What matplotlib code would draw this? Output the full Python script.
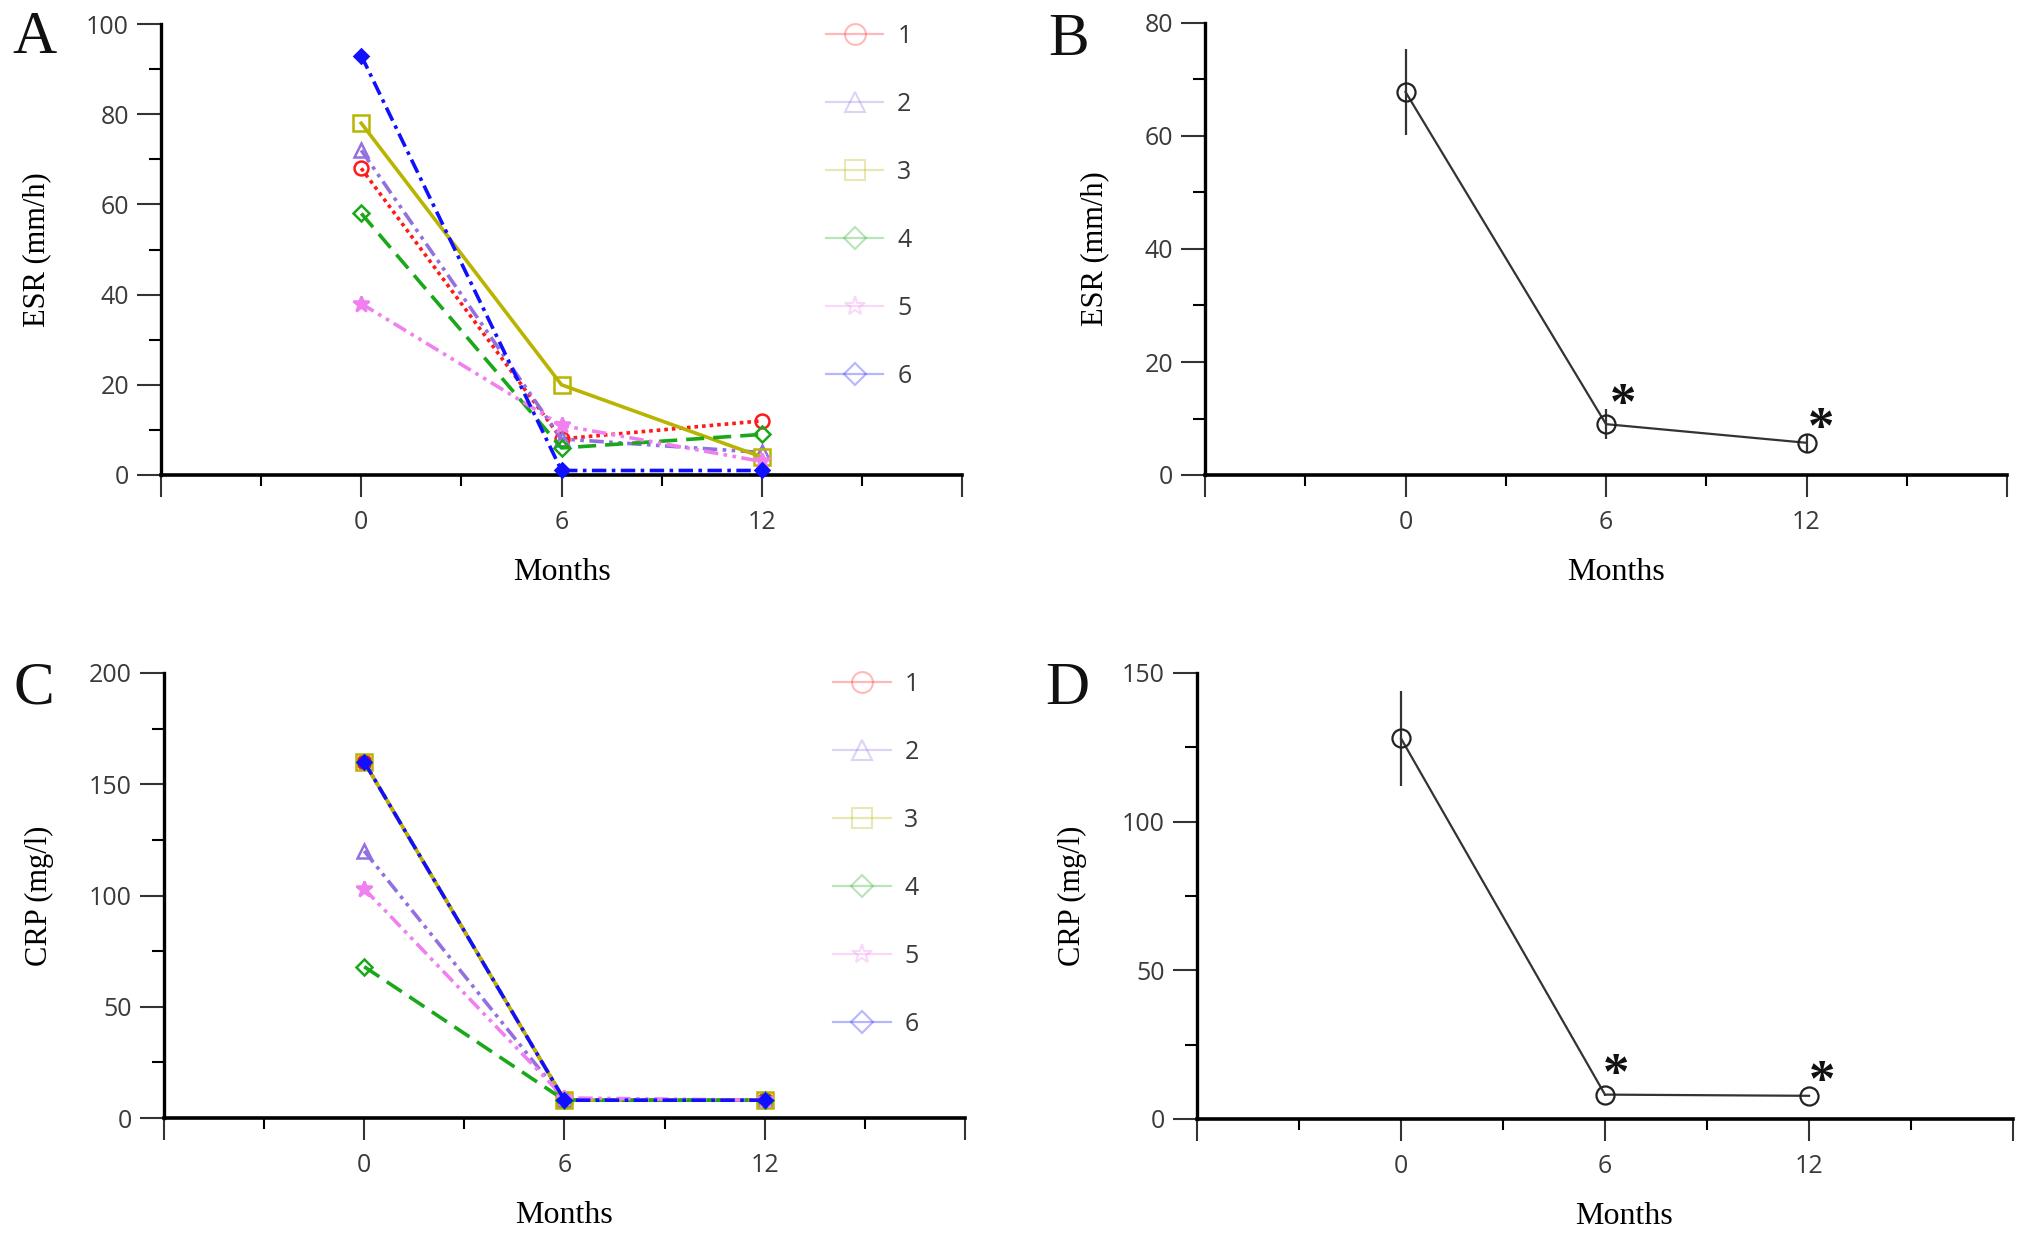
import numpy as np
import matplotlib
matplotlib.use("Agg")
from matplotlib import pyplot as plt
from matplotlib.lines import Line2D
from matplotlib.ticker import MultipleLocator, FixedLocator

# data
months = [0, 6, 12]
patients = ["1", "2", "3", "4", "5", "6"]
esr_1 = [68, 8, 12]
esr_2 = [72, 8, 5]
esr_3 = [78, 20, 4]
esr_4 = [58, 6, 9]
esr_5 = [38, 11, 3]
esr_6 = [93, 1, 1]
crp_1 = [160, 8, 8]
crp_2 = [120, 8, 8]
crp_3 = [160, 8, 8]
crp_4 = [68, 8, 8]
crp_5 = [103, 9, 8]
crp_6 = [160, 8, 8]
esr_mean = [67.8, 9.0, 5.7]
esr_sem = [7.6, 2.6, 1.6]
crp_mean = [128.0, 8.2, 7.8]
crp_sem = [16.0, 0.3, 0.2]

esr_all = [esr_1, esr_2, esr_3, esr_4, esr_5, esr_6]
crp_all = [crp_1, crp_2, crp_3, crp_4, crp_5, crp_6]

colors = ["#ff1a1a", "#9370e0", "#b8b400", "#1aa81a", "#f080f0", "#1010ff"]
markers = ["o", "^", "s", "D", "*", "D"]
msizes = [10, 10, 12, 8, 12, 7]
mfaces = ["none", "none", "none", "none", "#f080f0", "#1010ff"]
styles = [(0, (1, 1.1)), (0, (4, 1.5, 1, 1.5, 1, 1.5)), "-", (0, (5, 2.5)),
          (0, (4, 1.5, 1, 1.5, 1, 1.5)), (0, (4, 1.5, 1, 1.5))]

serif = "Liberation Serif"
sans = "Open Sans"
tcol = "#3a3a3a"

fig = plt.figure(figsize=(20.31, 12.35), dpi=100)


def style_axes(ax, ymax, ymajor, xlab_x=0.5):
    ax.set_xlim(-6, 18)
    ax.set_ylim(0, ymax)
    for s in ["top", "right"]:
        ax.spines[s].set_visible(False)
    ax.spines["left"].set_linewidth(2.4)
    ax.spines["bottom"].set_linewidth(2.6)
    ax.xaxis.set_major_locator(FixedLocator([-6, 0, 6, 12, 18]))
    ax.xaxis.set_minor_locator(FixedLocator([-3, 3, 9, 15]))
    ax.set_xticklabels(["", "0", "6", "12", ""])
    ax.yaxis.set_major_locator(MultipleLocator(ymajor))
    ax.yaxis.set_minor_locator(MultipleLocator(ymajor / 2))
    ax.tick_params(axis="x", which="major", direction="out", length=16, width=1.5, pad=9)
    ax.tick_params(axis="x", which="minor", direction="out", length=8, width=1.5)
    ax.tick_params(axis="y", which="major", direction="out", length=17, width=1.5, pad=6)
    ax.tick_params(axis="y", which="minor", direction="out", length=8.5, width=1.5)
    ax.tick_params(colors="#333333", labelcolor=tcol, labelsize=18)
    for lab in ax.get_xticklabels() + ax.get_yticklabels():
        lab.set_family(sans)
    ax.set_xlabel("Months", family=serif, fontsize=23, labelpad=17)
    ax.xaxis.label.set_x(xlab_x)
    ax.patch.set_alpha(0)


def patient_panel(ax, data, ymax, ymajor, ylabel, leg_x, leg_y):
    for i in range(len(data)):
        ax.plot(months, data[i], color=colors[i], ls=styles[i], lw=2.6,
                marker=markers[i], ms=msizes[i], mfc=mfaces[i], mec=colors[i],
                mew=1.8, clip_on=False, zorder=3 + i)
    style_axes(ax, ymax, ymajor)
    ax.set_ylabel(ylabel, family=serif, fontsize=22, labelpad=25)
    handles = [Line2D([], [], color=colors[i], alpha=0.3, lw=1.6, marker=markers[i],
                      ms=15 if markers[i] != "D" else 11, mfc="none", mew=1.5)
               for i in range(len(patients))]
    leg = fig.legend(handles, patients, loc="upper left",
                     bbox_to_anchor=(leg_x / 2031, 1 - leg_y / 1235),
                     frameon=False, borderpad=0, borderaxespad=0,
                     handlelength=2.3, handletextpad=0.55, labelspacing=1.72,
                     prop={"family": sans, "size": 18})
    for t in leg.get_texts():
        t.set_color(tcol)


def mean_panel(ax, mean, sem, ymax, ymajor, ylabel, stars, xlab_x):
    ax.errorbar(months, mean, yerr=sem, color="#333333", lw=1.6, elinewidth=1.6,
                capsize=0, marker="o", ms=13, mfc="none", mec="#222222", mew=1.6,
                clip_on=False, zorder=3)
    style_axes(ax, ymax, ymajor, xlab_x)
    ax.set_ylabel(ylabel, family=serif, fontsize=22, labelpad=25)
    for k, (dx, dy) in stars:
        ax.annotate("*", xy=(months[k], mean[k]), xytext=(dx * 0.72, dy * 0.72),
                    textcoords="offset points", ha="center", va="baseline",
                    family=serif, fontweight="bold", fontsize=38, color="#111111")


axA = fig.add_axes([161 / 2031, 1 - 475 / 1235, 801 / 2031, 451 / 1235])
patient_panel(axA, esr_all, 100, 20, "ESR (mm/h)", 826, 24)

axB = fig.add_axes([1205 / 2031, 1 - 475 / 1235, 802 / 2031, 452 / 1235])
mean_panel(axB, esr_mean, esr_sem, 80, 20, "ESR (mm/h)", [(1, (17, 5)), (2, (15, 0))], 0.513)

axC = fig.add_axes([164 / 2031, 1 - 1118 / 1235, 801 / 2031, 445 / 1235])
patient_panel(axC, crp_all, 200, 50, "CRP (mg/l)", 833, 672)

axD = fig.add_axes([1197 / 2031, 1 - 1119 / 1235, 816 / 2031, 446 / 1235])
mean_panel(axD, crp_mean, crp_sem, 150, 50, "CRP (mg/l)", [(1, (11, 6)), (2, (13, 0))], 0.523)

for letter, x, y in [("A", 12, 53), ("B", 1048, 55), ("C", 13, 704), ("D", 1045, 704)]:
    fig.text(x / 2031, 1 - y / 1235, letter, family=serif, fontsize=44,
             ha="left", va="baseline", color="#111111")

fig.savefig("out.png", dpi=100)
